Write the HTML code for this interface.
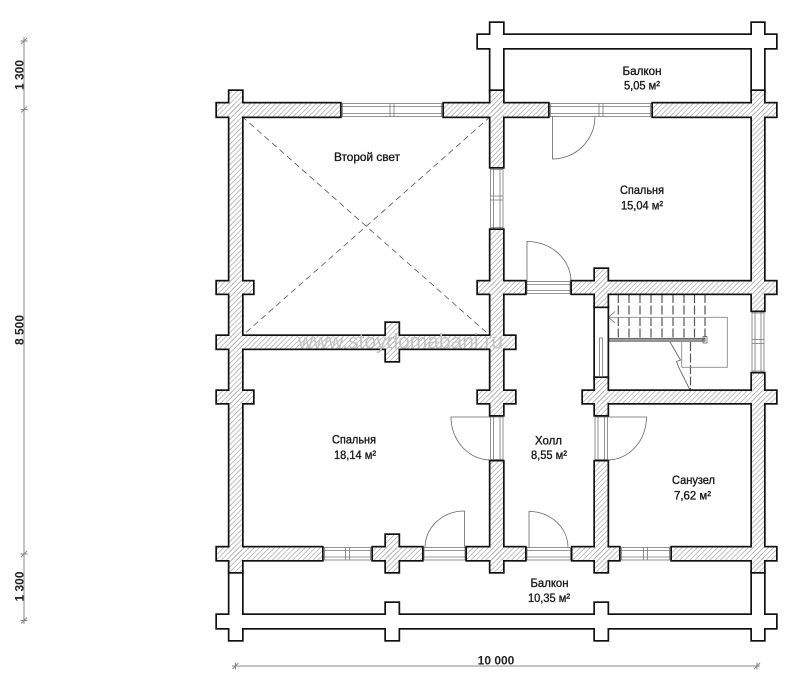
<!DOCTYPE html>
<html><head><meta charset="utf-8">
<style>html,body{margin:0;padding:0;background:#fff}svg{display:block}</style>
</head><body>
<svg width="800" height="690" viewBox="0 0 800 690" xmlns="http://www.w3.org/2000/svg" xmlns:xlink="http://www.w3.org/1999/xlink">
<defs>
<pattern id="hatch" width="3.6" height="3.6" patternUnits="userSpaceOnUse" patternTransform="rotate(45)">
<line x1="1.8" y1="0" x2="1.8" y2="3.6" stroke="#b0b0b0" stroke-width="0.8"/>
</pattern>
<g id="Wg">
<rect x="478" y="35" width="298" height="13"/>
<rect x="490.5" y="23" width="12.5" height="68"/>
<rect x="752" y="23" width="12" height="68"/>
<rect x="229.5" y="572" width="12.5" height="68"/>
<rect x="752" y="572" width="12" height="68"/>
<rect x="217" y="615" width="559" height="13"/>
<rect x="386" y="603" width="12.5" height="37"/>
<rect x="595" y="603" width="12.5" height="37"/>
<rect x="595" y="306.5" width="12.5" height="71.5"/>
</g>
<g id="Hg">
<rect x="217" y="103.5" width="123" height="13"/>
<rect x="444" y="103.5" width="104" height="13"/>
<rect x="653" y="103.5" width="123" height="13"/>
<rect x="229.5" y="91" width="12.5" height="481"/>
<rect x="217" y="281.5" width="36" height="12"/>
<rect x="217" y="336" width="298" height="12.5"/>
<rect x="217" y="391" width="36" height="12"/>
<rect x="217" y="547.5" width="105" height="12.5"/>
<rect x="490.5" y="91" width="12.5" height="76"/>
<rect x="490.5" y="230" width="12.5" height="185"/>
<rect x="490.5" y="461.5" width="12.5" height="110.5"/>
<rect x="478" y="281.5" width="47" height="12"/>
<rect x="478" y="391" width="37" height="12"/>
<rect x="467" y="547.5" width="58" height="12.5"/>
<rect x="386" y="323" width="12.5" height="38"/>
<rect x="373" y="547.5" width="49" height="12.5"/>
<rect x="386" y="535" width="12.5" height="37"/>
<rect x="572" y="281.5" width="204" height="12"/>
<rect x="595" y="269" width="12.5" height="37.5"/>
<rect x="595" y="378" width="12.5" height="37"/>
<rect x="595" y="461.5" width="12.5" height="110.5"/>
<rect x="583" y="391" width="193" height="12"/>
<rect x="572.5" y="547.5" width="46.5" height="12.5"/>
<rect x="672" y="547.5" width="104" height="12.5"/>
<rect x="752" y="91" width="12" height="219.5"/>
<rect x="752" y="373.5" width="12" height="198.5"/>
</g>
</defs>

<rect width="800" height="690" fill="#fff"/>

<path d="M242 116.5 L490.5 336 M490.5 116.5 L242 336" stroke="#555" stroke-width="0.8" stroke-dasharray="6 4" fill="none"/>

<g fill="#fff" stroke="#777" stroke-width="0.8">
<rect x="340" y="103.5" width="104" height="13"/>
<rect x="548" y="103.5" width="105" height="13"/>
<rect x="525" y="281.5" width="47" height="12"/>
<rect x="322" y="547.5" width="51" height="12.5"/>
<rect x="422" y="547.5" width="45" height="12.5"/>
<rect x="525" y="547.5" width="47.5" height="12.5"/>
<rect x="619" y="547.5" width="53" height="12.5"/>
<rect x="490.5" y="167" width="12.5" height="63"/>
<rect x="490.5" y="415" width="12.5" height="46.5"/>
<rect x="595" y="415" width="12.5" height="46.5"/>
<rect x="752" y="310.5" width="12" height="63"/>
</g>
<g fill="none" stroke="#777" stroke-width="0.8">
<path d="M340 106.5H444M340 113.5H444M342.5 103.5V116.5M441.5 103.5V116.5M390 103.5V116.5M394 103.5V116.5"/>
<path d="M548 106.5H653M548 113.5H653M550.5 103.5V116.5M650.5 103.5V116.5M599 103.5V116.5M603 103.5V116.5"/>
<path d="M525 284.5H572M525 290.5H572M527 281.5V293.5M570 281.5V293.5"/>
<path d="M322 550.5H373M322 557H373M324.5 547.5V560M370.5 547.5V560M345.5 547.5V560M349.5 547.5V560"/>
<path d="M422 550.5H467M422 557H467M424 547.5V560M465 547.5V560"/>
<path d="M525 550.5H572.5M525 557H572.5M527 547.5V560M570.5 547.5V560"/>
<path d="M619 550.5H672M619 557H672M621.5 547.5V560M669.5 547.5V560M643.5 547.5V560M647.5 547.5V560"/>
<path d="M493.5 167V230M500 167V230M490.5 169.5H503M490.5 227.5H503M490.5 196H503M490.5 200H503"/>
<path d="M493.5 415V461.5M500 415V461.5M490.5 417H503M490.5 459.5H503"/>
<path d="M598 415V461.5M604.5 415V461.5M595 417H607.5M595 459.5H607.5"/>
<path d="M755 310.5V373.5M761 310.5V373.5M752 313H764M752 371H764M752 339.5H764M752 343.5H764"/>
</g>

<g fill="none" stroke="#666" stroke-width="0.8">
<path d="M552.5 116.5 V159 A42.5 42.5 0 0 0 595 116.5"/>
<path d="M527 281.5 V241.5 A44 40 0 0 1 571 281.5"/>
<path d="M490.5 417 H451 A39.5 43 0 0 0 490.5 460"/>
<path d="M607.5 417 H646.5 A39 43 0 0 1 607.5 460"/>
<path d="M464.5 547.5 V511 A39.5 36.5 0 0 0 425 547.5"/>
<path d="M529 547.5 V511.5 A39 36 0 0 1 568 547.5"/>
</g>

<g stroke="#555" stroke-width="1.2" stroke-dasharray="9 2.5" fill="none">
<path d="M618.3 294V339M629 294V339M640 294V339M651 294V339M662 294V339M673 294V339M684 294V339M694.5 294V339M705 294V339"/>
<path d="M690.5 342V390"/>
</g>
<g stroke="#888" stroke-width="0.9" fill="none">
<polyline points="607.5,317.3 727.3,317.3 727.3,367.3 681.7,367.3"/>
<path d="M615 311.5 L608.5 317.3 L615 323"/>
<path d="M681.7 342 V367.3"/>
<polyline points="670,342 680.5,360 676.5,361.5 678.5,367 690,390" stroke="#666"/>
</g>
<rect x="607.5" y="338.3" width="97.5" height="3" fill="#999" stroke="#555" stroke-width="0.7"/>
<rect x="703" y="336.5" width="4" height="6.5" fill="none" stroke="#555" stroke-width="0.7"/>

<use xlink:href="#Wg" href="#Wg" fill="none" stroke="#111" stroke-width="3.4"/>
<use xlink:href="#Wg" href="#Wg" fill="#fff" stroke="none"/>
<use xlink:href="#Hg" href="#Hg" fill="none" stroke="#111" stroke-width="3.4"/>
<use xlink:href="#Hg" href="#Hg" fill="#fff" stroke="none"/>
<use xlink:href="#Hg" href="#Hg" fill="url(#hatch)" stroke="none"/>

<rect x="599.5" y="338" width="3" height="38.5" fill="none" stroke="#777" stroke-width="0.8"/>

<text x="298" y="348.5" font-family="Liberation Sans, Arial, sans-serif" font-size="21" fill="#c4c4c4" textLength="205" lengthAdjust="spacingAndGlyphs">www.stoydomabani.ru</text>

<g font-family="Liberation Sans, Arial, sans-serif" font-size="12" fill="#1a1a1a" stroke="#1a1a1a" stroke-width="0.35" text-anchor="middle">
<text x="642" y="75" textLength="39" lengthAdjust="spacingAndGlyphs">Балкон</text>
<text x="642" y="89.5" textLength="36" lengthAdjust="spacingAndGlyphs">5,05 м²</text>
<text x="367" y="161" textLength="66" lengthAdjust="spacingAndGlyphs">Второй свет</text>
<text x="642" y="194" textLength="44" lengthAdjust="spacingAndGlyphs">Спальня</text>
<text x="642" y="209.5" textLength="42" lengthAdjust="spacingAndGlyphs">15,04 м²</text>
<text x="354" y="443.5" textLength="44" lengthAdjust="spacingAndGlyphs">Спальня</text>
<text x="355" y="459" textLength="42" lengthAdjust="spacingAndGlyphs">18,14 м²</text>
<text x="548.5" y="444.5" textLength="27" lengthAdjust="spacingAndGlyphs">Холл</text>
<text x="549" y="459" textLength="36" lengthAdjust="spacingAndGlyphs">8,55 м²</text>
<text x="693.5" y="484" textLength="43" lengthAdjust="spacingAndGlyphs">Санузел</text>
<text x="692.5" y="499.5" textLength="37" lengthAdjust="spacingAndGlyphs">7,62 м²</text>
<text x="549.5" y="587" textLength="38" lengthAdjust="spacingAndGlyphs">Балкон</text>
<text x="549" y="602" textLength="42" lengthAdjust="spacingAndGlyphs">10,35 м²</text>
</g>

<g stroke="#888" stroke-width="1" fill="none">
<path d="M24 37 V624"/>
<path d="M21 44 L27 38 M20.5 41 H27.5"/>
<path d="M21 112.5 L27 106.5 M20.5 109.5 H27.5"/>
<path d="M21 557 L27 551 M20.5 554 H27.5"/>
<path d="M21 623.5 L27 617.5 M20.5 620.5 H27.5"/>
<path d="M232 666 H760"/>
<path d="M232.5 669 L238.5 663 M235.5 662.5 V669.5"/>
<path d="M754 669 L760 663 M757 662.5 V669.5"/>
</g>
<g font-family="Liberation Sans, Arial, sans-serif" font-size="12" font-weight="bold" fill="#222" text-anchor="middle">
<text transform="translate(23.3,75) rotate(-90)">1 300</text>
<text transform="translate(23.3,330) rotate(-90)">8 500</text>
<text transform="translate(23.3,586.5) rotate(-90)">1 300</text>
<text x="496" y="664.5">10 000</text>
</g>
</svg>
</body></html>
